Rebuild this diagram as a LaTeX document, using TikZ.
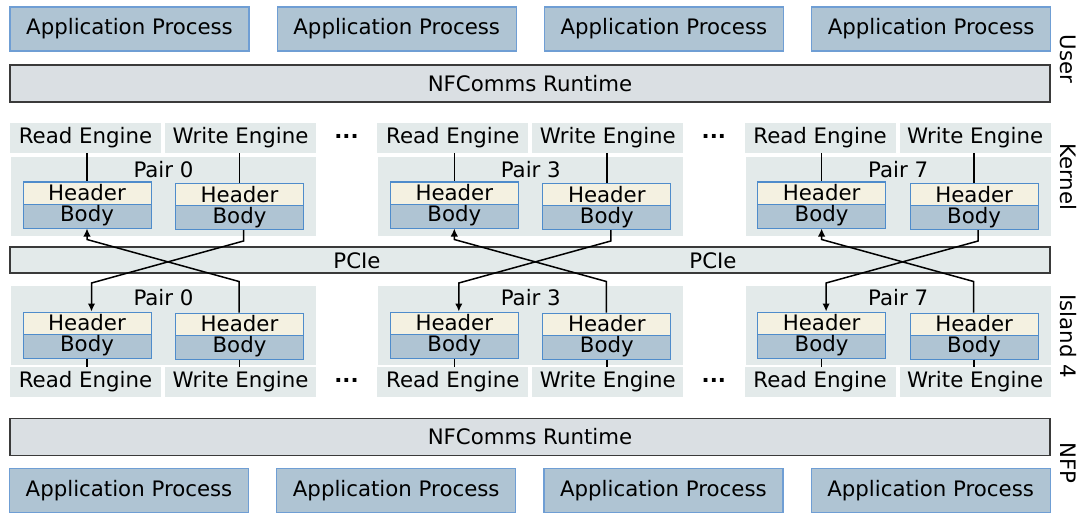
\documentclass[tikz,border=0pt]{standalone}
\usepackage{fontspec}
\setmainfont{DejaVu Sans}
\usetikzlibrary{arrows.meta,calc}
\definecolor{appfill}{HTML}{AFC4D3}
\definecolor{appline}{HTML}{6F9ED4}
\definecolor{hdrfill}{HTML}{F4F1E1}
\definecolor{cellline}{HTML}{4F8CCB}
\definecolor{panel}{HTML}{E3EAEA}
\definecolor{rtfill}{HTML}{DADFE3}
\definecolor{rtline}{HTML}{3A3A3A}
\tikzset{
  appbox/.style={draw=appline, fill=appfill, line width=1.2pt, minimum width=239, minimum height=44, inner sep=0pt},
  runtime/.style={draw=rtline, fill=rtfill, line width=1.3pt, minimum width=1040, minimum height=37, inner sep=0pt},
  pciebar/.style={draw=rtline, fill=panel, line width=1.3pt, minimum width=1040, minimum height=26, inner sep=0pt},
  engine/.style={fill=panel, minimum width=151, minimum height=30, inner sep=0pt},
  pairbox/.style={fill=panel, minimum width=305, minimum height=79, inner sep=0pt},
  hdr/.style={draw=cellline, fill=hdrfill, line width=1pt, minimum width=128, minimum height=22, inner sep=0pt},
  bdy/.style={draw=cellline, fill=appfill, line width=1pt, minimum width=128, minimum height=24, inner sep=0pt},
  link/.style={line width=1.5pt, black},
  flow/.style={line width=1.5pt, black, -{Latex[length=8pt,width=7.5pt]}},
  layer/.style={rotate=-90, inner sep=0pt},
  dots/.style={font=\fontsize{21.3}{25}\selectfont\bfseries, inner sep=0pt}
}
\begin{document}
\begin{tikzpicture}[x=1pt,y=-1pt,font=\fontsize{21.3}{25}\selectfont]
\useasboundingbox (0,0) rectangle (1083,513);

% application processes and runtimes
\foreach \k in {0,1,2,3} {
  \node[appbox] (appU\k) at (129.5+267.2*\k,29) {Application Process};
  \node[appbox] (appN\k) at (129+267.2*\k,490.5) {Application Process};
}
\node[runtime] (rtU) at (530,83.5) {NFComms Runtime};
\node[runtime] (rtN) at (530,437) {NFComms Runtime};
\node[pciebar] (pcie) at (530,260) {};
\node at (357,261) {PCIe};
\node at (713,261) {PCIe};

% layer labels
\node[layer] (lUser) at (1068,59) {User};
\node[layer] (lKernel) at (1068,177) {Kernel};
\node[layer] (lIsland) at (1068,336) {Island 4};
\node[layer] (lNFP) at (1068,463) {NFP};

% engine pairs on both sides of the link
\foreach \g/\p in {0/0,1/3,2/7} {
  \pgfmathsetmacro{\d}{367.3*\g}
  % kernel side
  \node[engine] (kre\g) at (85.5+\d,138) {Read Engine};
  \node[engine] (kwe\g) at (240.5+\d,138) {Write Engine};
  \node[pairbox] (kpair\g) at (163.5+\d,196.5) {};
  \node (kpl\g) at (163.5+\d,170) {Pair \p};
  \node[hdr] (khl\g) at (87+\d,193) {Header};
  \node[bdy] (kbl\g) at (87+\d,216) {Body};
  \node[hdr] (khr\g) at (239.5+\d,194.5) {Header};
  \node[bdy] (kbr\g) at (239.5+\d,217.5) {Body};
  \draw[link] (kre\g.south -| khl\g.north) -- (khl\g.north);
  \draw[link] (kwe\g.south -| khr\g.north) -- (khr\g.north);
  % island side
  \node[pairbox] (ipair\g) at (163.5+\d,325.5) {};
  \node (ipl\g) at (163.5+\d,298) {Pair \p};
  \node[hdr] (ihl\g) at (87+\d,323) {Header};
  \node[bdy] (ibl\g) at (87+\d,346) {Body};
  \node[hdr] (ihr\g) at (239.5+\d,324) {Header};
  \node[bdy] (ibr\g) at (239.5+\d,347) {Body};
  \node[engine] (ire\g) at (85.5+\d,382) {Read Engine};
  \node[engine] (iwe\g) at (240.5+\d,382) {Write Engine};
  \draw[link] (ibl\g.south) -- (ibl\g.south |- ire\g.north);
  \draw[link] (ibr\g.south) -- (ibr\g.south |- iwe\g.north);
  % crossing transfers over PCIe
  \draw[flow] ([xshift=4pt]kbr\g.south) -- ++(0,11) -- ++(-152,42) -- ([xshift=4.5pt]ihl\g.north);
  \draw[flow] ([xshift=-0.5pt]ihr\g.north) -- ++(0,-31) -- ++(-152,-42) -- (kbl\g.south);
}
\foreach \g in {0,1} {
  \node[dots] (kdots\g) at (346.5+367.3*\g,136) {...};
  \node[dots] (idots\g) at (346.5+367.3*\g,380) {...};
}
\end{tikzpicture}
\end{document}
